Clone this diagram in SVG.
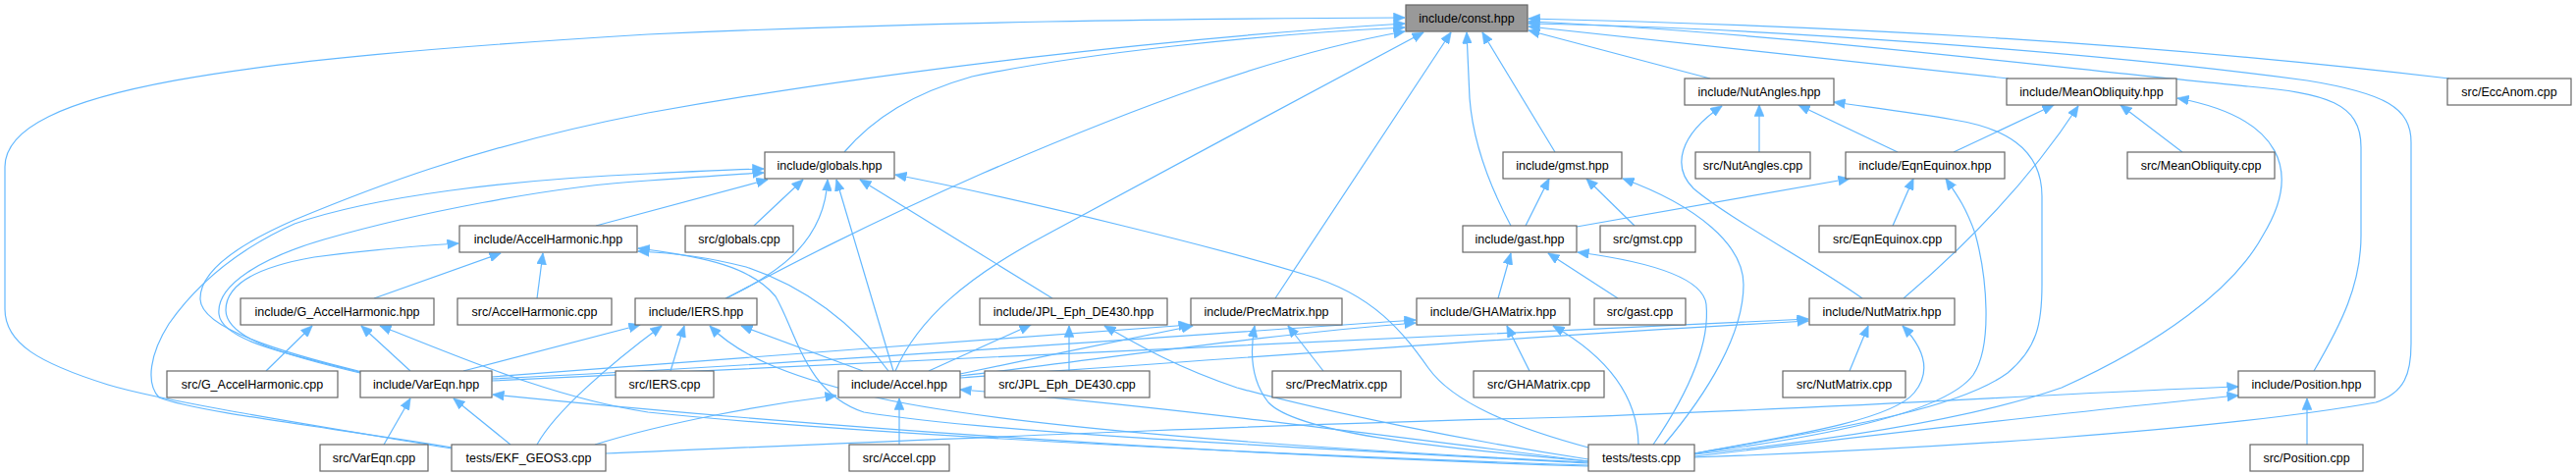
<svg xmlns="http://www.w3.org/2000/svg" width="2624" height="485" viewBox="0 0 2624 485">
<defs>
<style>
.n rect{fill:#ffffff;stroke:#666666;stroke-width:1.2}
.n.root rect{fill:#999999}
.n text{font-family:"Liberation Sans",Arial,Helvetica,sans-serif;font-size:12.5px;fill:#000000;text-anchor:middle}
#edges path{fill:none;stroke:#63b8ff;stroke-width:1.2;marker-end:url(#ah)}
</style>
<marker id="ah" markerUnits="userSpaceOnUse" markerWidth="12" markerHeight="10" viewBox="0 0 12 10" refX="11.5" refY="5" orient="auto">
<path d="M0,0 L12,5 L0,10 z" fill="#63b8ff" stroke="#63b8ff" stroke-width="0.5"/>
</marker>
</defs>
<rect width="2624" height="485" fill="#ffffff"/>
<g id="edges">
<path d="M460,457 C330,435 170,410 110,392 C40,370 5,350 5,315 L5,170 C5,90 250,60 660,35 C950,22 1200,19 1431,18"/>
<path d="M369,379 C290,360 205,335 204,305 C203,275 245,248 300,224 C370,195 480,150 660,115 C900,72 1200,38 1431,24"/>
<path d="M461,456 C340,436 200,420 162,405 C148,390 153,360 172,330 C200,290 240,255 300,228 C380,200 520,183 660,177 C700,175 740,173 778,172"/>
<path d="M370,380 C300,362 226,348 223,320 C220,290 268,262 330,244 C420,218 560,190 660,184 C700,181 740,178 778,176"/>
<path d="M371,381 C290,362 230,345 230,316 C230,290 262,272 320,262 C380,254 420,251 467,248"/>
<path d="M860,155 C890,120 930,95 990,78 C1100,55 1280,35 1431,28"/>
<path d="M740,304 C800,272 880,230 1000,177 C1150,112 1300,55 1431,32"/>
<path d="M912,378 C935,325 985,282 1068,238 C1190,172 1330,97 1450,33"/>
<path d="M1299,304 L1478,33"/>
<path d="M1539,230 C1515,185 1500,140 1497,100 L1494,33"/>
<path d="M1584,155 L1510,33"/>
<path d="M1742,80 L1557,31"/>
<path d="M2046,80 L1557,27"/>
<path d="M2495,80 C2200,45 1900,27 1557,19"/>
<path d="M2357,378 C2385,330 2405,290 2405,240 L2405,150 C2405,105 2370,95 2290,88 C2100,70 1800,32 1557,22"/>
<path d="M1726,466 C1950,458 2250,440 2420,410 C2450,400 2456,380 2456,350 L2456,145 C2456,110 2430,95 2350,82 C2150,55 1800,28 1557,24"/>
<path d="M607,230 L782,183"/>
<path d="M768,230 L818,183"/>
<path d="M739,304 C790,280 840,248 843,183"/>
<path d="M910,378 L852,183"/>
<path d="M1072,304 L876,183"/>
<path d="M1618,456 C1540,435 1480,410 1455,375 C1430,340 1400,300 1330,280 C1250,255 1050,205 912,178"/>
<path d="M381,304 L510,258"/>
<path d="M547,304 L553,258"/>
<path d="M905,378 C870,330 820,292 760,272 C720,262 690,258 650,256"/>
<path d="M1618,472 C1300,455 1000,440 880,420 C820,400 812,340 790,302 C765,272 720,262 650,253"/>
<path d="M271,378 L318,332"/>
<path d="M418,378 L368,332"/>
<path d="M1618,474 C1250,462 850,440 660,420 C560,405 460,360 387,332"/>
<path d="M391,453 L418,406"/>
<path d="M520,453 L462,406"/>
<path d="M1618,475 C1200,462 800,432 502,402"/>
<path d="M501,384 C700,370 1000,345 1212,331"/>
<path d="M501,386 C800,372 1200,342 1442,326"/>
<path d="M501,388 C900,368 1500,342 1842,325"/>
<path d="M472,378 L652,331"/>
<path d="M547,453 C565,420 620,372 674,332"/>
<path d="M683,378 L697,332"/>
<path d="M1618,471 C1300,456 1000,432 880,402 C800,382 752,362 723,332"/>
<path d="M879,378 L755,332"/>
<path d="M916,453 L916,406"/>
<path d="M606,453 C680,430 780,412 852,403"/>
<path d="M1618,470 C1400,442 1150,410 978,397"/>
<path d="M946,378 L1050,331"/>
<path d="M978,381 C1050,366 1150,345 1215,332"/>
<path d="M978,383 C1150,362 1300,340 1442,329"/>
<path d="M978,385 C1300,362 1600,340 1842,327"/>
<path d="M1089,378 L1089,332"/>
<path d="M1618,468 C1500,450 1350,420 1260,395 C1200,375 1160,352 1125,332"/>
<path d="M1348,378 L1312,332"/>
<path d="M1618,470 C1450,455 1320,440 1292,410 C1276,390 1272,365 1278,332"/>
<path d="M1558,378 L1535,332"/>
<path d="M1669,453 C1668,405 1640,365 1582,332"/>
<path d="M1884,378 L1903,332"/>
<path d="M1726,462 C1850,440 1930,425 1950,400 C1968,378 1960,355 1938,332"/>
<path d="M1897,304 C1850,270 1760,222 1725,192 C1703,170 1710,138 1754,108"/>
<path d="M1939,304 C1985,265 2060,195 2117,108"/>
<path d="M1526,304 L1539,258"/>
<path d="M1648,304 L1577,258"/>
<path d="M1684,453 C1720,400 1742,350 1738,310 C1735,285 1690,268 1607,257"/>
<path d="M1554,230 L1578,182"/>
<path d="M1665,230 L1616,182"/>
<path d="M1695,453 C1740,400 1776,340 1776,290 C1776,250 1730,210 1653,182"/>
<path d="M1606,231 L1884,182"/>
<path d="M1928,230 L1949,182"/>
<path d="M1726,462 C1850,446 1980,422 2010,382 C2030,352 2024,282 2012,238 C2002,210 1993,198 1982,182"/>
<path d="M1792,155 L1792,107"/>
<path d="M1933,155 L1832,107"/>
<path d="M1726,462 C1850,440 1990,420 2045,380 C2075,355 2080,330 2080,290 L2080,200 C2080,150 2040,130 1990,122 C1950,115 1910,110 1868,104"/>
<path d="M1990,155 L2092,107"/>
<path d="M2223,155 L2160,107"/>
<path d="M1726,463 C1850,450 2000,430 2100,395 C2200,350 2275,295 2305,240 C2345,175 2325,120 2218,100"/>
<path d="M2350,453 L2350,406"/>
<path d="M1726,465 C1900,445 2100,420 2280,403"/>
<path d="M617,462 C900,450 1300,432 1600,425 C1900,415 2100,400 2280,394"/>
</g>
<g id="n_const" class="n root"><rect x="1432" y="5" width="124" height="27"/><text x="1494" y="23">include/const.hpp</text></g>
<g id="n_nutangles_h" class="n"><rect x="1716" y="80" width="152" height="27"/><text x="1792" y="98">include/NutAngles.hpp</text></g>
<g id="n_meanobl_h" class="n"><rect x="2044" y="80" width="173" height="27"/><text x="2130.5" y="98">include/MeanObliquity.hpp</text></g>
<g id="n_eccanom_c" class="n"><rect x="2493" y="80" width="126" height="27"/><text x="2556" y="98">src/EccAnom.cpp</text></g>
<g id="n_globals_h" class="n"><rect x="779" y="155" width="132" height="27"/><text x="845" y="173">include/globals.hpp</text></g>
<g id="n_gmst_h" class="n"><rect x="1531" y="155" width="121" height="27"/><text x="1591.5" y="173">include/gmst.hpp</text></g>
<g id="n_nutangles_c" class="n"><rect x="1727" y="155" width="117" height="27"/><text x="1785.5" y="173">src/NutAngles.cpp</text></g>
<g id="n_eqnequinox_h" class="n"><rect x="1880" y="155" width="162" height="27"/><text x="1961" y="173">include/EqnEquinox.hpp</text></g>
<g id="n_meanobl_c" class="n"><rect x="2167" y="155" width="150" height="27"/><text x="2242" y="173">src/MeanObliquity.cpp</text></g>
<g id="n_accelharm_h" class="n"><rect x="468" y="230" width="181" height="27"/><text x="558.5" y="248">include/AccelHarmonic.hpp</text></g>
<g id="n_globals_c" class="n"><rect x="698" y="230" width="110" height="27"/><text x="753" y="248">src/globals.cpp</text></g>
<g id="n_gast_h" class="n"><rect x="1490" y="230" width="116" height="27"/><text x="1548" y="248">include/gast.hpp</text></g>
<g id="n_gmst_c" class="n"><rect x="1630" y="230" width="97" height="27"/><text x="1678.5" y="248">src/gmst.cpp</text></g>
<g id="n_eqnequinox_c" class="n"><rect x="1853" y="230" width="139" height="27"/><text x="1922.5" y="248">src/EqnEquinox.cpp</text></g>
<g id="n_gaccelharm_h" class="n"><rect x="245" y="304" width="197" height="27"/><text x="343.5" y="322">include/G_AccelHarmonic.hpp</text></g>
<g id="n_accelharm_c" class="n"><rect x="466" y="304" width="157" height="27"/><text x="544.5" y="322">src/AccelHarmonic.cpp</text></g>
<g id="n_iers_h" class="n"><rect x="647" y="304" width="124" height="27"/><text x="709" y="322">include/IERS.hpp</text></g>
<g id="n_jpl_h" class="n"><rect x="998" y="304" width="191" height="27"/><text x="1093.5" y="322">include/JPL_Eph_DE430.hpp</text></g>
<g id="n_precmatrix_h" class="n"><rect x="1213" y="304" width="154" height="27"/><text x="1290" y="322">include/PrecMatrix.hpp</text></g>
<g id="n_ghamatrix_h" class="n"><rect x="1443" y="304" width="156" height="27"/><text x="1521" y="322">include/GHAMatrix.hpp</text></g>
<g id="n_gast_c" class="n"><rect x="1624" y="304" width="93" height="27"/><text x="1670.5" y="322">src/gast.cpp</text></g>
<g id="n_nutmatrix_h" class="n"><rect x="1843" y="304" width="148" height="27"/><text x="1917" y="322">include/NutMatrix.hpp</text></g>
<g id="n_gaccelharm_c" class="n"><rect x="170" y="378" width="174" height="27"/><text x="257" y="396">src/G_AccelHarmonic.cpp</text></g>
<g id="n_vareqn_h" class="n"><rect x="367" y="378" width="134" height="27"/><text x="434" y="396">include/VarEqn.hpp</text></g>
<g id="n_iers_c" class="n"><rect x="627" y="378" width="100" height="27"/><text x="677" y="396">src/IERS.cpp</text></g>
<g id="n_accel_h" class="n"><rect x="854" y="378" width="124" height="27"/><text x="916" y="396">include/Accel.hpp</text></g>
<g id="n_jpl_c" class="n"><rect x="1003" y="378" width="168" height="27"/><text x="1087" y="396">src/JPL_Eph_DE430.cpp</text></g>
<g id="n_precmatrix_c" class="n"><rect x="1296" y="378" width="131" height="27"/><text x="1361.5" y="396">src/PrecMatrix.cpp</text></g>
<g id="n_ghamatrix_c" class="n"><rect x="1501" y="378" width="133" height="27"/><text x="1567.5" y="396">src/GHAMatrix.cpp</text></g>
<g id="n_nutmatrix_c" class="n"><rect x="1816" y="378" width="125" height="27"/><text x="1878.5" y="396">src/NutMatrix.cpp</text></g>
<g id="n_position_h" class="n"><rect x="2280" y="378" width="139" height="27"/><text x="2349.5" y="396">include/Position.hpp</text></g>
<g id="n_vareqn_c" class="n"><rect x="326" y="453" width="110" height="27"/><text x="381" y="471">src/VarEqn.cpp</text></g>
<g id="n_ekf_geos3" class="n"><rect x="460" y="453" width="157" height="27"/><text x="538.5" y="471">tests/EKF_GEOS3.cpp</text></g>
<g id="n_accel_c" class="n"><rect x="865" y="453" width="102" height="27"/><text x="916" y="471">src/Accel.cpp</text></g>
<g id="n_tests" class="n"><rect x="1618" y="453" width="108" height="27"/><text x="1672" y="471">tests/tests.cpp</text></g>
<g id="n_position_c" class="n"><rect x="2292" y="453" width="115" height="27"/><text x="2349.5" y="471">src/Position.cpp</text></g>
</svg>
